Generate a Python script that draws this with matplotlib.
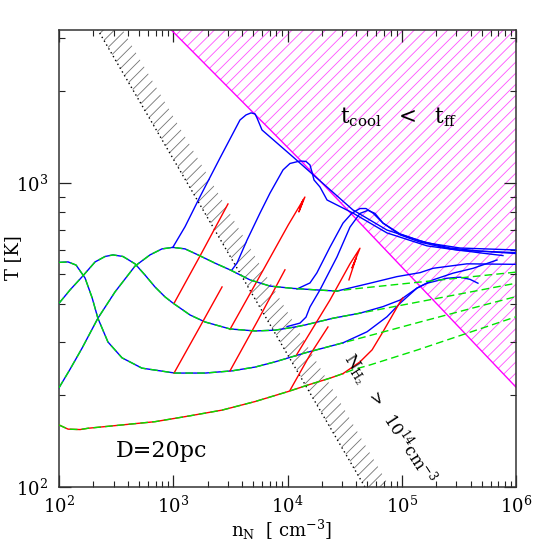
import numpy as np
import matplotlib
matplotlib.use('Agg')
import matplotlib.pyplot as plt
from matplotlib.ticker import LogLocator, NullFormatter, LogFormatterMathtext

plt.rcParams['font.family'] = ['DejaVu Serif']
plt.rcParams['mathtext.fontset'] = 'dejavuserif'
plt.rcParams['hatch.linewidth'] = 0.6

# ---------------- data (n_N [cm^-3], T [K]) ----------------
# green dashed tracks (full)
n_P = [100, 120, 141, 169, 195, 219, 268, 356, 532, 1035, 1900, 3270, 5200, 7780, 14200, 30600, 145000, 1e6]
T_P = [548, 550, 537, 487, 419, 359, 300, 266, 246, 237, 237, 241, 248, 258, 276, 298, 349, 423]

n_Q = [100, 125, 159, 207, 253, 297, 363, 463, 566, 692, 847, 991, 1402, 1897, 3138, 5200, 7780, 11650, 14200, 25000, 43100, 1e6]
T_Q = [402, 445, 491, 550, 573, 580, 573, 542, 498, 455, 422, 403, 368, 349, 331, 326, 328, 336, 341, 359, 373, 468]

n_R = [100, 125, 159, 219, 309, 463, 626, 797, 991, 1268, 1648, 2317, 3138, 4695, 7025, 11160, 17740, 27100, 37400, 1e6]
T_R = [212, 244, 286, 359, 438, 533, 580, 607, 614, 607, 580, 545, 518, 480, 458, 450, 445, 441, 448, 509]

n_S = [100, 120, 153, 179, 356, 692, 1345, 2670, 5200, 10100, 14800, 23530, 30600, 37400, 52700, 135800, 1e6]
T_S = [160, 155, 154.5, 156, 160, 164, 171, 179, 191, 206, 216, 228, 236, 243, 252, 282, 363]

# where the solid (blue / red) part of each track stops following the dashed track
nsplit_P, nsplit_Q, nsplit_R, nsplit_S = 30600, 43100, 27100, 30600

# blue branches
n_b1 = [991, 1268, 1714, 2565, 3838, 4334, 4797, 5200, 5410, 5980, 11170, 22150, 37400, 74250, 166500, 323500, 1e6]
T_b1 = [614, 718, 901, 1208, 1611, 1674, 1700, 1687, 1636, 1494, 1218, 970, 815, 700, 635, 611, 602]
n_b2 = [3266, 3613, 4426, 5743, 7025, 9140, 10510, 12860, 14520, 15730, 16370, 17060, 19240, 22190, 37400, 74250, 166500, 323500, 1e6]
T_b2 = [518, 545, 649, 796, 926, 1104, 1159, 1181, 1177, 1146, 1087, 1023, 970, 879, 796, 685, 621, 600, 590]
n_b3 = [12110, 15730, 18070, 23530, 30620, 36660, 43090, 48600, 56000, 68500, 96600, 144500, 264400, 484000, 769000]
T_b3 = [448, 469, 506, 615, 738, 796, 824, 824, 796, 738, 675, 639, 607, 589, 577]
n_b4 = [27100, 52700, 90800, 144500, 187700, 372000, 1e6]
T_b4 = [441, 468, 492, 507, 524, 542, 540]
n_q3 = [9910, 12860, 14520, 15730, 19240, 27100, 35230, 43090, 50700, 58300, 68500, 96600, 144500, 264400, 484000, 1e6]
T_q3 = [337, 346, 362, 391, 445, 571, 716, 794, 813, 794, 738, 680, 645, 611, 597, 586]
n_q4 = [43100, 68500, 96600, 135800, 166500, 249000, 323500, 395700, 464500]
T_q4 = [373, 392, 412, 451, 468, 486, 490, 482, 468]
n_p4 = [30600, 49700, 74250, 96600, 135800, 187700, 281000, 421000, 682000]
T_p4 = [298, 324, 363, 402, 451, 480, 505, 524, 558]

# red branches
n_rP1 = [1016, 1648, 2673]
T_rP1 = [237, 328, 455]
n_rQ1 = [1016, 1714, 3013]
T_rQ1 = [402, 575, 853]
n_rP2 = [3138, 5520, 9500]
T_rP2 = [241, 354, 518]
n_rQ2 = [3138, 5743, 10160, 14200, 12580, 13700, 12860]
T_rQ2 = [330, 495, 728, 899, 803, 879, 828]
n_rP3 = [11860, 23530, 35230, 43090, 36700, 39800, 34500]
T_rP3 = [270, 412, 542, 610, 525, 566, 480]
n_rS1 = [10520, 15730, 22600]
T_rS1 = [208, 272, 336]
n_rS2 = [30600, 43090, 55000, 68500, 96600, 102600]
T_rS2 = [236, 258, 282.5, 324, 406, 419]

# t_cool < t_ff boundary
n_cool = [950, 12900, 1e6]
T_cool = [3200, 1190, 213]

# N_H2 > 1e14 cm^-3 boundary (dotted) and hatched band edge
T_nh2 = [100, 3185]
n_nh2 = [47600, 219]
n_nh2_edge = [78500, 361]

# ---------------- figure ----------------
W = 545
fig = plt.figure(figsize=(5.45, 5.45), dpi=100)
ax = fig.add_axes([59 / W, 58 / W, 457 / W, 457 / W])
ax.set_xscale('log')
ax.set_yscale('log')
ax.set_xlim(1e2, 1e6)
ax.set_ylim(100, 3185)

BLUE, RED, GREEN, MAG = '#0000ff', '#ff0000', '#00e400', '#ff00ff'
LW = 1.0

# magenta hatched region
ax.fill_between(n_cool, T_cool, 1e4, facecolor='none', edgecolor='#ff50ff',
                hatch='///', linewidth=0, zorder=1)
ax.plot(n_cool, T_cool, color=MAG, lw=1.0, zorder=2)

# gray hatched band and dotted boundary
ax.fill_betweenx(T_nh2, n_nh2, n_nh2_edge, facecolor='none', edgecolor='0.45',
                 hatch='///', linewidth=0, zorder=1)
ax.plot(n_nh2, T_nh2, color='black', lw=1.0, ls=(0, (1, 2.2)), zorder=2)


def upto(n, T, ncut):
    n = np.asarray(n, float)
    T = np.asarray(T, float)
    m = n <= ncut * 1.0001
    return n[m], T[m]


# blue solid tracks
for (n, T, c) in [(n_P, T_P, nsplit_P), (n_Q, T_Q, nsplit_Q), (n_R, T_R, nsplit_R)]:
    x, y = upto(n, T, c)
    ax.plot(x, y, color=BLUE, lw=LW, zorder=3)
for n, T in [(n_b1, T_b1), (n_b2, T_b2), (n_b3, T_b3), (n_b4, T_b4),
             (n_q3, T_q3), (n_q4, T_q4), (n_p4, T_p4)]:
    ax.plot(n, T, color=BLUE, lw=LW, zorder=3)

# red solid tracks
x, y = upto(n_S, T_S, nsplit_S)
ax.plot(x, y, color=RED, lw=LW, zorder=3)
for n, T in [(n_rP1, T_rP1), (n_rQ1, T_rQ1), (n_rP2, T_rP2), (n_rQ2, T_rQ2),
             (n_rP3, T_rP3), (n_rS1, T_rS1), (n_rS2, T_rS2)]:
    ax.plot(n, T, color=RED, lw=LW, zorder=3)

# green dashed tracks
for n, T in [(n_P, T_P), (n_Q, T_Q), (n_R, T_R), (n_S, T_S)]:
    ax.plot(n, T, color=GREEN, lw=LW, ls=(0, (5.5, 3)), zorder=4)

# ticks
ax.xaxis.set_major_locator(LogLocator(base=10, numticks=10))
ax.xaxis.set_minor_locator(LogLocator(base=10, subs=np.arange(2, 10), numticks=20))
ax.yaxis.set_major_locator(LogLocator(base=10, numticks=10))
ax.yaxis.set_minor_locator(LogLocator(base=10, subs=np.arange(2, 10), numticks=20))
ax.xaxis.set_major_formatter(LogFormatterMathtext())
ax.yaxis.set_major_formatter(LogFormatterMathtext())
ax.xaxis.set_minor_formatter(NullFormatter())
ax.yaxis.set_minor_formatter(NullFormatter())
ax.tick_params(which='both', direction='in', top=True, right=True, colors='#222222',
               labelcolor='black', labelsize=13)
ax.tick_params(which='major', length=8.5, width=0.9, pad=6)
ax.tick_params(which='minor', length=4.3, width=0.8)
ax.tick_params(axis='y', which='major', pad=8)
for s in ax.spines.values():
    s.set_linewidth(1.1)
    s.set_color('#333333')

# labels and annotations
fig.text(282 / W, 1 - 530 / W, r'$\mathrm{n_N}$  [ cm$^{-3}$]', ha='center', va='center', fontsize=13)
fig.text(13 / W, 1 - 258 / W, 'T [K]', ha='center', va='center', rotation=90, fontsize=13)
fig.text(162 / W, 1 - 451 / W, 'D=20pc', ha='center', va='center', fontsize=16)
fig.text(399 / W, 1 - 117 / W, r'$\mathrm{t_{cool}}\ \ <\ \ \mathrm{t_{ff}}$',
         ha='center', va='center', fontsize=15.5)
fig.text(389 / W, 1 - 419 / W, r'$\mathrm{N_{H_2}}\ \ >\ \ \mathrm{10^{14}cm^{-3}}$',
         ha='center', va='center', rotation=-57, rotation_mode='anchor', fontsize=12)

fig.savefig('out.png', dpi=100)
